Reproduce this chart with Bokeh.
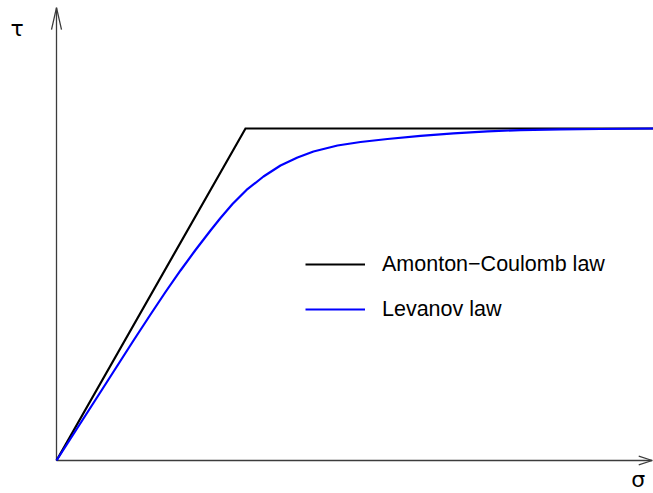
from bokeh.plotting import figure
from bokeh.models import Range1d, Legend, LegendItem
from bokeh.core.properties import value
from bokeh.embed import file_html
from bokeh.resources import INLINE

# Shear stress vs. normal stress, normalised so that the friction limit
# tau = m*k is 1 and the Coulomb line reaches it at sigma = 1.
sigma_coulomb = [0.0, 1.0, 3.16]
tau_coulomb = [0.0, 1.0, 1.0]

sigma_levanov = [0.0, 0.2328, 0.4074, 0.4974, 0.5767, 0.6561, 0.7354, 0.8148,
                 0.8677, 0.9312, 1.0053, 1.0952, 1.1852, 1.2751, 1.3598, 1.4868,
                 1.6085, 1.7513, 1.9259, 2.1005, 2.2804, 2.4550, 2.6667, 2.8783,
                 3.16]
tau_levanov = [0.0, 0.2063, 0.3614, 0.4398, 0.5075, 0.5723, 0.6340, 0.6928,
               0.7304, 0.7726, 0.8148, 0.8554, 0.8886, 0.9127, 0.9307, 0.9488,
               0.9593, 0.9684, 0.9777, 0.9855, 0.9913, 0.9952, 0.9973, 0.9985,
               1.0]

series_labels = ["Amonton\u2212Coulomb law", "Levanov law"]
axis_labels = ["\u03c3", "\u03c4"]

# extent of the drawn axes (arrow tips)
sigma_axis_end = 3.152
tau_axis_end = 1.364

W, H = 653, 493
x0, x1 = -0.2963, 3.1587
y0, y1 = -0.0994, 1.3855

p = figure(width=W, height=H, output_backend="svg", toolbar_location=None,
           x_range=Range1d(x0, x1), y_range=Range1d(y0, y1),
           min_border=0, outline_line_color=None)
p.axis.visible = False
p.grid.visible = False
p.background_fill_color = "white"
p.border_fill_color = "white"

# pixels per data unit, used for the open arrow heads and label offsets
sx = W / (x1 - x0)
sy = H / (y1 - y0)

axis_color = "#3c3c3c"
p.line([0, sigma_axis_end], [0, 0], line_color=axis_color, line_width=1.3)
p.line([0, 0], [0, tau_axis_end], line_color=axis_color, line_width=1.3)
p.multi_line(
    xs=[[sigma_axis_end - 13.5 / sx, sigma_axis_end, sigma_axis_end - 13.5 / sx],
        [-5 / sx, 0, 5 / sx]],
    ys=[[4.3 / sy, 0, -4.3 / sy],
        [tau_axis_end - 22 / sy, tau_axis_end, tau_axis_end - 22 / sy]],
    line_color=axis_color, line_width=1.3)

r_c = p.line(sigma_coulomb, tau_coulomb, line_color="black", line_width=2.2,
             line_join="miter")
r_l = p.line(sigma_levanov, tau_levanov, line_color="#0000ff", line_width=2.2,
             line_join="round")

p.text(x=[sigma_axis_end - 14 / sx], y=[-19.5 / sy], text=[axis_labels[0]],
       text_font=value("DejaVu Sans"), text_font_size="22px",
       text_align="center", text_baseline="alphabetic", text_color="black")
p.text(x=[-39.3 / sx], y=[tau_axis_end - 20.5 / sy], text=[axis_labels[1]],
       text_font=value("DejaVu Sans"), text_font_size="22px",
       text_align="center", text_baseline="alphabetic", text_color="black")

legend = Legend(
    items=[LegendItem(label=series_labels[0], renderers=[r_c]),
           LegendItem(label=series_labels[1], renderers=[r_l])],
    location=(305, 171), orientation="vertical",
    glyph_width=60, glyph_height=26, label_height=26, spacing=19,
    label_standoff=17, padding=0, margin=0,
    label_text_font="Liberation Sans", label_text_font_size="21.5px",
    label_text_color="black",
    border_line_alpha=0, background_fill_alpha=0)
p.add_layout(legend, "center")

open("out.html", "w").write(file_html(p, INLINE))
